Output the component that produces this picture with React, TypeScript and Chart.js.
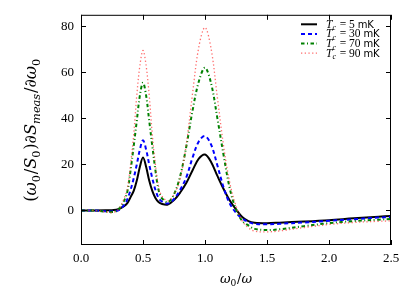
import React, { useEffect, useRef } from "react";
import { Chart, registerables } from "chart.js";
Chart.register(...registerables);

// omega_0 / omega sample positions
const omegaRatio = [0, 0.1, 0.2, 0.25, 0.3, 0.35, 0.375, 0.4, 0.425, 0.45, 0.475, 0.5, 0.525, 0.55, 0.575, 0.6, 0.625, 0.65, 0.7, 0.75, 0.8, 0.85, 0.9, 0.95, 1.0, 1.05, 1.1, 1.15, 1.2, 1.25, 1.3, 1.35, 1.4, 1.5, 1.6, 1.8, 2.0, 2.2, 2.4, 2.5];

// (omega_0/S_0) dS_meas/d omega_0 for each T_c
const tc5mK = [0, 0, 0.05, 0.15, 0.5, 2, 3.3, 5.8, 8.5, 13, 19, 23, 19, 13, 8.5, 5.4, 3.7, 2.9, 2.6, 4.5, 7.8, 12, 17.5, 22.5, 24.3, 21, 15, 9.3, 4.3, 0.5, -2.8, -4.6, -5.3, -5.5, -5.3, -4.8, -4.2, -3.4, -2.7, -2.4];
const tc30mK = [0, 0, -0.3, -0.4, 0, 2.5, 5, 9, 14, 20, 26.5, 30.5, 26.5, 20, 14, 9, 5.5, 4, 3, 5, 9, 14.5, 23, 30, 32.3, 28.5, 19.5, 10, 3, -1, -3.5, -5, -5.8, -6, -5.8, -5.2, -4.5, -3.8, -3.1, -2.8];
const tc70mK = [0, 0, -0.5, -0.7, 0.3, 4.5, 8.5, 17.5, 28, 39, 50, 55.5, 50, 39, 28, 17.5, 9, 5.5, 3.6, 7, 15, 28, 43.5, 56, 62, 55, 40, 24, 9.5, 0.5, -4.5, -6.5, -8, -8.5, -8.2, -6.8, -5.5, -4.6, -4, -3.7];
const tc90mK = [0, 0, -0.6, -0.9, 0.3, 5.5, 10, 20, 33, 50, 63, 69.5, 63, 50, 33, 20, 10.5, 6.5, 4.2, 7, 14, 29, 51, 71, 79.5, 70, 49, 28, 12, 2, -4.5, -7.5, -9, -9.3, -8.9, -7.4, -6.1, -5.2, -4.7, -4.5];

const temperaturesMK = ["5", "30", "70", "90"];
const xTickValues = [0, 0.5, 1.0, 1.5, 2.0, 2.5];
const yTickValues = [0, 20, 40, 60, 80];

const seriesStyles = [
  { color: "#000000", width: 2, dash: [] as number[] },
  { color: "#0000ff", width: 2, dash: [4, 3] },
  { color: "#008000", width: 2, dash: [3.5, 2.5, 1, 2.5] },
  { color: "rgba(255,60,60,0.75)", width: 1.3, dash: [1.3, 2.4] },
];

type Seg = { t: string; italic?: boolean; sub?: boolean; sans?: boolean };

const SERIF = '"Liberation Serif", "DejaVu Serif", serif';
const MATH = '"DejaVu Serif", serif';
const SANS = '"DejaVu Sans", sans-serif';

function segFont(s: Seg, size: number, fam: string, sansSize?: number) {
  const sz = s.sub ? size * 0.7 : s.sans && sansSize ? sansSize : size;
  return `${s.italic ? "italic " : ""}${sz}px ${s.sans ? SANS : fam}`;
}

function measureSegs(ctx: CanvasRenderingContext2D, segs: Seg[], size: number, fam: string, sansSize?: number) {
  let total = 0;
  for (const s of segs) {
    ctx.font = segFont(s, size, fam, sansSize);
    total += ctx.measureText(s.t).width + (s.sub ? 0.8 : 0);
  }
  return total;
}

function drawSegs(ctx: CanvasRenderingContext2D, segs: Seg[], x: number, y: number, size: number, center: boolean, fam: string, sansSize?: number) {
  const total = measureSegs(ctx, segs, size, fam, sansSize);
  let cx = center ? x - total / 2 : x;
  ctx.textAlign = "left";
  ctx.textBaseline = "alphabetic";
  for (const s of segs) {
    ctx.font = segFont(s, size, fam, sansSize);
    ctx.fillText(s.t, cx, s.sub ? y + size * 0.22 : y);
    cx += ctx.measureText(s.t).width + (s.sub ? 0.8 : 0);
  }
}

const xLabel: Seg[] = [
  { t: "ω", italic: true },
  { t: "0", sub: true },
  { t: "/" },
  { t: "ω", italic: true },
];

const yLabel: Seg[] = [
  { t: "(" },
  { t: "ω", italic: true },
  { t: "0", sub: true },
  { t: "/" },
  { t: "S", italic: true },
  { t: "0", sub: true },
  { t: ")" },
  { t: "∂" },
  { t: "S", italic: true },
  { t: "meas", italic: true, sub: true },
  { t: "/" },
  { t: "∂" },
  { t: "ω", italic: true },
  { t: "0", sub: true },
];

const decor = {
  id: "decor",
  afterDraw(chart: any) {
    const { ctx, chartArea: a, scales } = chart;
    const xs = scales.x;
    const ys = scales.y;
    ctx.save();
    // frame
    ctx.strokeStyle = "#000";
    ctx.lineWidth = 1;
    ctx.setLineDash([]);
    ctx.strokeRect(a.left + 0.5, a.top + 0.5, a.right - a.left - 1, a.bottom - a.top - 1);
    // inward ticks on all four sides
    const tl = 5;
    ctx.beginPath();
    for (const v of xTickValues) {
      const px = Math.round(xs.getPixelForValue(v)) + 0.5;
      ctx.moveTo(px, a.bottom);
      ctx.lineTo(px, a.bottom - tl);
      ctx.moveTo(px, a.top);
      ctx.lineTo(px, a.top + tl);
    }
    for (const v of yTickValues) {
      const py = Math.round(ys.getPixelForValue(v)) + 0.5;
      ctx.moveTo(a.left, py);
      ctx.lineTo(a.left + tl, py);
      ctx.moveTo(a.right, py);
      ctx.lineTo(a.right - tl, py);
    }
    ctx.stroke();

    // legend
    ctx.fillStyle = "#000";
    temperaturesMK.forEach((t, i) => {
      const st = seriesStyles[i];
      const ry = a.top + 9.5 + i * 9.6;
      ctx.strokeStyle = st.color;
      ctx.lineWidth = st.width;
      ctx.setLineDash(st.dash);
      ctx.beginPath();
      ctx.moveTo(a.right - 90, ry);
      ctx.lineTo(a.right - 74, ry);
      ctx.stroke();
      ctx.setLineDash([]);
      const segs: Seg[] = [
        { t: "T", italic: true },
        { t: "c", italic: true, sub: true },
        { t: ` = ${t} ` },
        { t: "mK", sans: true },
      ];
      drawSegs(ctx, segs, a.right - 65, ry + 3.5, 11.5, false, SERIF, 10);
    });

    // axis titles
    ctx.fillStyle = "#000";
    drawSegs(ctx, xLabel, (a.left + a.right) / 2, 283, 13, true, MATH);

    const target = 146;
    const base = 10;
    const w = measureSegs(ctx, yLabel, base, MATH);
    const size = (base * target) / w;
    ctx.save();
    ctx.translate(36, (a.top + a.bottom) / 2);
    ctx.rotate(-Math.PI / 2);
    drawSegs(ctx, yLabel, 0, 0, size, true, MATH);
    ctx.restore();

    ctx.restore();
  },
};

export default function App() {
  const ref = useRef<HTMLCanvasElement>(null);
  useEffect(() => {
    document.body.style.margin = "0";
    const canvas = ref.current!;
    const series = [tc5mK, tc30mK, tc70mK, tc90mK];
    const tickFont = { family: SERIF, size: 13 };
    const chart = new Chart(canvas, {
      type: "line",
      data: {
        datasets: series.map((vals, i) => ({
          label: `Tc = ${temperaturesMK[i]} mK`,
          data: omegaRatio.map((x, j) => ({ x, y: vals[j] })),
          borderColor: seriesStyles[i].color,
          borderWidth: seriesStyles[i].width,
          borderDash: seriesStyles[i].dash,
          pointRadius: 0,
          fill: false,
          tension: 0.35,
          order: 4 - i,
        })),
      },
      options: {
        responsive: false,
        animation: false,
        devicePixelRatio: 1,
        layout: { padding: { left: 0, right: 16, top: 11, bottom: 0 } },
        plugins: { legend: { display: false }, tooltip: { enabled: false } },
        scales: {
          x: {
            type: "linear",
            min: 0,
            max: 2.5,
            grid: { display: false, drawTicks: false },
            border: { display: false },
            ticks: {
              font: tickFont,
              color: "#000",
              padding: 6,
              maxRotation: 0,
              autoSkip: false,
              callback: (v: any) => Number(v).toFixed(1),
            },
            afterBuildTicks: (s: any) => {
              s.ticks = xTickValues.map((v) => ({ value: v }));
            },
            afterFit: (s: any) => {
              s.height = 44;
            },
          },
          y: {
            type: "linear",
            min: -15,
            max: 85,
            grid: { display: false, drawTicks: false },
            border: { display: false },
            ticks: {
              font: tickFont,
              color: "#000",
              padding: 7,
              autoSkip: false,
              callback: (v: any) => String(v),
            },
            afterBuildTicks: (s: any) => {
              s.ticks = yTickValues.map((v) => ({ value: v }));
            },
            afterFit: (s: any) => {
              s.width = 81;
            },
          },
        },
      },
      plugins: [decor],
    });
    return () => chart.destroy();
  }, []);
  return <canvas ref={ref} width={407} height={289} style={{ display: "block" }} />;
}
